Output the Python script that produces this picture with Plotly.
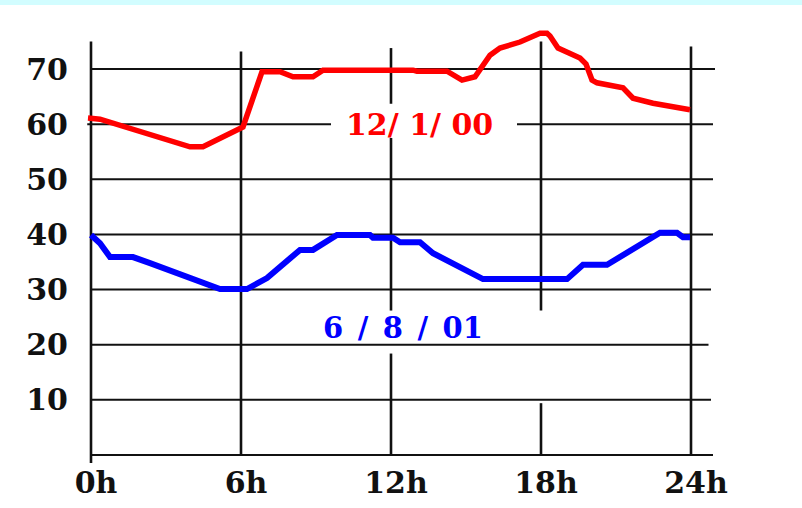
import plotly.graph_objects as go

# ---- data ----
red_hours = [-0.12, 0.36, 3.96, 4.48, 6.08, 6.48, 6.84, 7.56, 8.08, 8.88, 9.28, 12.88, 13.04,
             14.24, 14.84, 15.36, 15.96, 16.36, 17.16, 17.96, 18.24, 18.36, 18.68, 19.56,
             19.8, 20.04, 20.24, 21.28, 21.68, 22.48, 23.96]
red_values = [61.1, 60.9, 55.9, 55.9, 59.5, 64.9, 69.5, 69.5, 68.6, 68.6, 69.8, 69.8, 69.6,
              69.6, 68.0, 68.6, 72.5, 73.8, 74.9, 76.5, 76.5, 76.0, 73.8, 72.0,
              70.9, 68.0, 67.5, 66.6, 64.7, 63.8, 62.6]

blue_hours = [0.0, 0.36, 0.76, 1.68, 2.36, 5.16, 6.24, 7.04, 8.36, 8.88, 9.84, 11.16, 11.28,
              12.08, 12.36, 13.16, 13.68, 14.48, 15.28, 15.68, 19.04, 19.68, 20.64, 21.68,
              22.76, 23.44, 23.68, 23.96]
blue_values = [39.9, 38.4, 35.9, 35.9, 34.8, 30.1, 30.1, 32.1, 37.2, 37.2, 39.9, 39.9, 39.4,
               39.4, 38.6, 38.6, 36.6, 34.8, 33.0, 31.9, 31.9, 34.5, 34.5, 37.5,
               40.3, 40.3, 39.5, 39.5]

x_tickvals = [0, 6, 12, 18, 24]
x_ticktext = ["0h", "6h", "12h", "18h", "24h"]
y_tickvals = [10, 20, 30, 40, 50, 60, 70]
y_ticktext = ["10", "20", "30", "40", "50", "60", "70"]

red_label = "12/ 1/ 00"
blue_label = "6\u2002/\u20028\u2002/\u200201"

# ---- layout geometry ----
ML, MR, MT, MB = 81, 75, 28, 44
X_RANGE = [-0.4, 25.44]
Y_RANGE = [-1.63, 77.44]
W, H = 802, 508
PW, PH = W - ML - MR, H - MT - MB

# grid: vertical lines (x, list of (y0, y1) segments)
v_grid = [
    (0, [(-1.45, 75.0)]),
    (6, [(0, 73.2)]),
    (12, [(0, 18.4), (26.2, 57.5), (63.7, 73.8)]),
    (18, [(0, 9.4), (26.2, 75.0)]),
    (24, [(0, 74.1)]),
]
# horizontal lines (y, list of (x0, x1) segments)
h_grid = [
    (0, [(0, 24.88)]),
    (10, [(0, 24.8)]),
    (20, [(0, 24.7)]),
    (30, [(0, 24.8)]),
    (40, [(0, 24.88)]),
    (50, [(0, 24.88)]),
    (60, [(-0.15, 9.6), (17.04, 24.88)]),
    (70, [(0, 24.96)]),
]

shapes = []
for xv, segs in v_grid:
    for y0, y1 in segs:
        shapes.append(dict(type="line", xref="x", yref="y", x0=xv, x1=xv, y0=y0, y1=y1,
                           line=dict(color="#111111", width=2.6), layer="below"))
for yv, segs in h_grid:
    for x0, x1 in segs:
        shapes.append(dict(type="line", xref="x", yref="y", x0=x0, x1=x1, y0=yv, y1=yv,
                           line=dict(color="#111111", width=2), layer="below"))
# top cyan strip
shapes.append(dict(type="rect", xref="paper", yref="paper",
                   x0=-ML / PW, x1=(W - ML) / PW,
                   y0=1 + (MT - 5) / PH, y1=1 + MT / PH,
                   fillcolor="#d2fdff", line=dict(width=0), layer="above"))

fig = go.Figure()
fig.add_trace(go.Scatter(x=red_hours, y=red_values, mode="lines",
                         line=dict(color="#ff0000", width=5.5), hoverinfo="skip"))
fig.add_trace(go.Scatter(x=blue_hours, y=blue_values, mode="lines",
                         line=dict(color="#0000ff", width=6), hoverinfo="skip"))

tick_font = dict(family="DejaVu Serif", size=30, color="#111111", weight="bold")

fig.update_layout(
    width=W, height=H,
    margin=dict(l=ML, r=MR, t=MT, b=MB, pad=0, autoexpand=False),
    paper_bgcolor="white", plot_bgcolor="white",
    showlegend=False,
    shapes=shapes,
    xaxis=dict(range=X_RANGE, tickvals=x_tickvals, ticktext=x_ticktext,
               showgrid=False, zeroline=False, showline=False, ticks="",
               tickfont=tick_font, ticklabelstandoff=-2, ticklabelshift=5,
               fixedrange=True, automargin=False),
    yaxis=dict(range=Y_RANGE, tickvals=y_tickvals, ticktext=y_ticktext,
               showgrid=False, zeroline=False, showline=False, ticks="",
               tickfont=tick_font, ticklabelstandoff=12, fixedrange=True,
               automargin=False),
    annotations=[
        dict(x=13.12, y=60.0, xref="x", yref="y", text=red_label, showarrow=False,
             font=dict(family="DejaVu Serif", size=30, color="#ff0000", weight="bold"),
             xanchor="center", yanchor="middle"),
        dict(x=12.48, y=23.0, xref="x", yref="y", text=blue_label, showarrow=False,
             font=dict(family="DejaVu Serif", size=29, color="#0000ff", weight="bold"),
             xanchor="center", yanchor="middle"),
    ],
)

fig.write_html(
    "out.html",
    config={"displayModeBar": False, "staticPlot": True},
    post_script="document.body.style.margin='0';document.body.style.overflow='hidden';",
)
